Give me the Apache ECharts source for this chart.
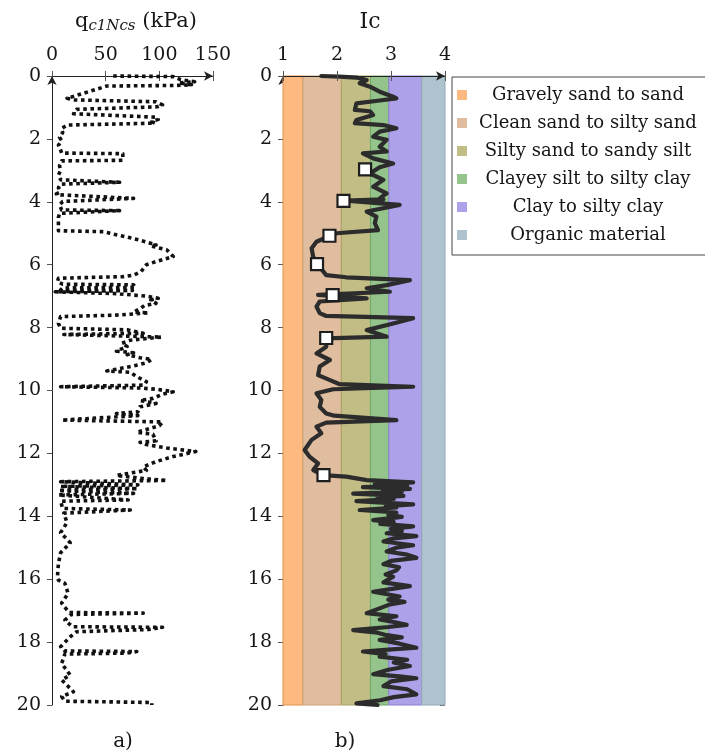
<!DOCTYPE html>
<html>
<head>
<meta charset="utf-8">
<style>
  html, body { margin: 0; padding: 0; background: #fff; }
  #chart { width: 705px; height: 754px; }
</style>
<script src="https://cdn.jsdelivr.net/npm/echarts@6/dist/echarts.min.js"></script>
</head>
<body>
<div id="chart"></div>
<script>
// Cone resistance profile: [q_c1Ncs (kPa), depth (m)]
const qc1ncsProfile = [
  [57,0],[113,0.02],[120,0.12],[133,0.18],[118,0.22],[130,0.28],[115,0.3],[51,0.32],[14,0.71],[20,0.76],
  [97,0.82],[103,0.92],[98,0.98],[23,1.06],[20,1.2],[97,1.31],[99,1.38],[93,1.45],[96,1.5],[14,1.56],
  [9,1.67],[10,1.8],[7,1.95],[9,2.05],[6,2.2],[8,2.35],[9,2.45],[66,2.47],[66,2.68],[9,2.70],
  [7,2.85],[8,3.0],[6,3.15],[8,3.3],[9,3.36],[63,3.38],[63,3.42],[8,3.44],[6,3.55],[7,3.7],
  [4,3.75],[8,3.78],[76,3.89],[10,3.99],[7,4.1],[9,4.26],[63,4.28],[63,4.34],[7,4.37],[6,4.5],
  [6,4.7],[6,4.92],[48,4.95],[60,5.05],[70,5.12],[82,5.22],[97,5.37],[92,5.4],[107,5.53],[113,5.74],
  [105,5.82],[97,5.90],[88,6.0],[83,6.22],[76,6.33],[66,6.38],[6,6.43],[5,6.54],[10,6.62],[76,6.64],
  [78,6.72],[10,6.74],[8,6.80],[75,6.82],[3,6.86],[60,6.92],[88,7.0],[99,7.07],[92,7.12],[97,7.23],
  [86,7.3],[82,7.4],[76,7.51],[90,7.53],[63,7.6],[8,7.65],[6,7.87],[8,8.02],[70,8.07],[85,8.18],
  [11,8.22],[102,8.3],[73,8.4],[65,8.5],[70,8.6],[60,8.75],[76,8.8],[70,8.86],[82,8.96],[93,9.01],
  [88,9.12],[76,9.22],[51,9.38],[73,9.42],[79,9.56],[88,9.72],[85,9.83],[8,9.88],[82,9.92],[97,9.96],
  [113,10.04],[103,10.12],[94,10.25],[82,10.32],[97,10.41],[82,10.52],[80,10.68],[60,10.73],[80,10.8],[9,10.94],
  [103,11.0],[100,11.12],[79,11.33],[94,11.39],[97,11.6],[82,11.65],[88,11.72],[107,11.83],[134,11.94],[113,12.1],
  [97,12.26],[85,12.43],[88,12.54],[60,12.7],[85,12.8],[107,12.86],[8,12.9],[80,13.0],[8,13.05],[80,13.12],
  [6,13.18],[76,13.27],[6,13.32],[71,13.48],[8,13.52],[10,13.75],[73,13.80],[11,13.9],[14,14.2],[8,14.52],
  [17,14.84],[8,15.16],[6,15.5],[5,15.96],[6,16.03],[12,16.13],[15,16.45],[9,16.76],[14,16.98],[16,17.06],
  [85,17.08],[18,17.12],[12,17.3],[19,17.51],[103,17.53],[90,17.6],[23,17.67],[17,17.83],[8,18.15],[12,18.28],
  [79,18.3],[70,18.35],[12,18.38],[9,18.68],[17,19.05],[9,19.2],[20,19.58],[9,19.73],[12,19.88],[93,19.92],
  [93,20]
];

// Soil behaviour type index profile: [Ic, depth (m)]
const icProfile = [
  [1.71,0],[2.05,0.02],[2.36,0.05],[2.55,0.13],[2.42,0.23],[2.61,0.34],[2.79,0.5],[3.04,0.66],[3.1,0.71],[2.79,0.78],
  [2.36,0.87],[2.33,1.08],[2.61,1.12],[2.67,1.24],[2.36,1.40],[2.33,1.5],[2.86,1.56],[3.1,1.66],[2.79,1.77],[2.67,1.93],
  [2.92,2.03],[2.79,2.25],[2.92,2.4],[2.48,2.46],[2.67,2.62],[3.04,2.78],[2.79,2.9],[2.61,3.1],[2.86,3.3],[2.67,3.52],
  [2.92,3.73],[2.79,3.89],[2.86,3.92],[2.17,3.96],[3.16,4.1],[2.55,4.31],[2.73,4.47],[2.70,4.68],[2.76,4.9],[1.99,5.0],
  [1.87,5.08],[1.62,5.27],[1.53,5.48],[1.56,5.75],[1.65,6.01],[1.80,6.33],[2.17,6.40],[3.35,6.49],[2.92,6.65],[2.55,6.75],
  [2.98,6.86],[1.65,6.96],[2.55,7.07],[1.68,7.17],[1.62,7.33],[1.68,7.54],[1.80,7.63],[3.41,7.70],[3.04,7.87],[2.55,8.08],
  [2.92,8.29],[1.80,8.34],[1.80,8.61],[1.62,8.82],[1.87,9.03],[1.68,9.24],[1.65,9.51],[1.87,9.67],[2.05,9.80],[3.41,9.88],
  [1.93,9.96],[1.62,10.09],[1.71,10.3],[1.68,10.52],[1.80,10.73],[1.95,10.80],[3.10,10.94],[1.80,11.02],[1.62,11.15],[1.71,11.36],
  [1.53,11.57],[1.40,11.89],[1.49,12.1],[1.65,12.32],[1.56,12.53],[1.74,12.69],[2.17,12.74],[2.55,12.85],[3.41,12.92],[2.70,12.98],
  [3.30,13.02],[2.48,13.07],[3.35,13.13],[2.85,13.18],[3.20,13.22],[2.30,13.28],[3.23,13.35],[2.75,13.40],[3.05,13.45],[2.36,13.52],
  [3.41,13.62],[2.90,13.68],[3.10,13.72],[2.42,13.80],[3.10,13.88],[2.95,13.95],[3.20,14.02],[2.67,14.12],[3.05,14.18],[2.80,14.24],
  [3.41,14.32],[3.00,14.40],[3.20,14.46],[2.92,14.54],[3.47,14.63],[3.05,14.70],[2.86,14.80],[3.41,14.92],[3.10,15.00],[2.92,15.12],
  [3.30,15.22],[3.47,15.32],[3.00,15.42],[2.86,15.52],[3.15,15.62],[3.10,15.72],[2.90,15.85],[3.04,15.92],[2.86,16.10],[3.35,16.22],
  [3.05,16.30],[2.67,16.40],[3.16,16.55],[2.95,16.65],[3.25,16.72],[2.98,16.80],[2.80,16.92],[2.55,17.08],[3.10,17.18],[2.79,17.28],
  [3.05,17.36],[3.29,17.45],[2.95,17.52],[2.30,17.62],[2.75,17.70],[2.92,17.78],[3.20,17.85],[2.79,17.93],[3.16,18.05],[3.47,18.18],
  [2.95,18.24],[2.48,18.30],[2.90,18.38],[2.79,18.46],[3.30,18.56],[3.05,18.65],[3.35,18.76],[2.95,18.88],[2.67,19.02],[3.20,19.10],
  [3.47,19.15],[3.00,19.25],[2.86,19.40],[3.30,19.50],[3.47,19.66],[3.05,19.75],[2.80,19.85],[2.36,19.95],[2.75,20.0]
];

// Sampled points along the Ic profile
const sampleIc    = [2.52, 2.12, 1.86, 1.63, 1.92, 1.80, 1.75];
const sampleDepth = [2.97, 3.97, 5.08, 5.98, 6.97, 8.33, 12.69];

// Soil behaviour type zones (Ic limits)
const zoneNames  = ['Gravely sand to sand', 'Clean sand to silty sand', 'Silty sand to sandy silt',
                    'Clayey silt to silty clay', 'Clay to silty clay', 'Organic material'];
const zoneLimits = [1, 1.37, 2.08, 2.62, 2.96, 3.57, 4];
const zoneFill   = ['#fdb97f', '#dfbd9e', '#c2bd85', '#94c48b', '#ada2e9', '#aec3ce'];
const zoneEdge   = ['#e0924f', '#cda27c', '#a8a262', '#6fa966', '#8c7fd4', '#93aab6'];

// Axis ticks
const depthTicks = [0, 2, 4, 6, 8, 10, 12, 14, 16, 18, 20];
const qTicks = [0, 50, 100, 150];
const icTicks = [1, 2, 3, 4];

const FONT = 'DejaVu Serif';
const INK = '#161616';

const chart = echarts.init(document.getElementById('chart'), null, { renderer: 'canvas' });

function valueAxis(opts) {
  return Object.assign({
    type: 'value',
    splitLine: { show: false },
    axisLabel: { fontFamily: FONT, fontSize: 19, color: INK, margin: 11 },
    axisLine: { show: true, lineStyle: { color: '#222', width: 1 } },
    axisTick: { show: true, length: 5, lineStyle: { color: '#555' } }
  }, opts);
}

// companion axis that only draws the inward half of crossing ticks
function innerTicks(opts) {
  return Object.assign({
    type: 'value',
    splitLine: { show: false },
    axisLabel: { show: false },
    axisLine: { show: false },
    axisTick: { show: true, inside: true, length: 5, lineStyle: { color: '#555' } }
  }, opts);
}

const depthCfg = { min: depthTicks[0], max: depthTicks[depthTicks.length - 1], interval: 2, inverse: true };
const qCfg = { min: qTicks[0], max: qTicks[qTicks.length - 1], interval: 50 };
const icCfg = { min: icTicks[0], max: icTicks[icTicks.length - 1], interval: 1 };
const arrow = { symbol: ['none', 'arrow'], symbolSize: [7, 9] };

const zoneSeries = zoneNames.map((name, i) => ({
  name: name,
  type: 'line',
  xAxisIndex: 2,
  yAxisIndex: 2,
  data: [],
  z: 1,
  itemStyle: { color: zoneFill[i] },
  lineStyle: { color: zoneFill[i] },
  markArea: {
    silent: true,
    itemStyle: { color: zoneFill[i], borderColor: zoneEdge[i], borderWidth: 1 },
    data: [[{ xAxis: zoneLimits[i] }, { xAxis: zoneLimits[i + 1] }]]
  }
}));

const titleStyle = { fontFamily: FONT, fontSize: 21, fontWeight: 'normal', color: INK };

const option = {
  animation: false,
  backgroundColor: '#fff',
  title: [
    {
      text: 'q{s|c1Ncs} (kPa)',
      left: 131, top: 5, textAlign: 'center',
      textStyle: Object.assign({}, titleStyle, {
        rich: { s: { fontFamily: FONT, fontSize: 15, fontStyle: 'italic', color: INK, padding: [9, 0, 0, 0] } }
      })
    },
    { text: 'Ic', left: 365, top: 6, textAlign: 'center', textStyle: Object.assign({}, titleStyle, { fontSize: 22 }) },
    { text: 'a)', left: 118, top: 727, textAlign: 'center', textStyle: Object.assign({}, titleStyle, { fontSize: 20 }) },
    { text: 'b)', left: 340, top: 727, textAlign: 'center', textStyle: Object.assign({}, titleStyle, { fontSize: 20 }) }
  ],
  legend: {
    data: zoneNames,
    orient: 'vertical',
    left: 452, top: 77,
    padding: [9, 5, 11, 5],
    itemGap: 10,
    itemWidth: 10, itemHeight: 10,
    icon: 'rect',
    selectedMode: false,
    backgroundColor: '#fff',
    borderColor: '#444', borderWidth: 1, borderRadius: 0,
    formatter: name => '{t|' + name + '}',
    textStyle: {
      fontFamily: FONT, fontSize: 18, color: INK,
      rich: { t: { width: 232, align: 'center', fontFamily: FONT, fontSize: 18, lineHeight: 20, color: INK } }
    }
  },
  grid: [
    { left: 52, top: 76, width: 161, height: 629 },
    { left: 283, top: 76, width: 162, height: 629 }
  ],
  xAxis: [
    valueAxis(Object.assign({ gridIndex: 0, position: 'top', axisLine: Object.assign({ show: true, lineStyle: { color: '#222' } }, arrow) }, qCfg)),
    innerTicks(Object.assign({ gridIndex: 0, position: 'top' }, qCfg)),
    valueAxis(Object.assign({ gridIndex: 1, position: 'top', z: 5, axisLine: Object.assign({ show: true, lineStyle: { color: '#222' } }, arrow) }, icCfg)),
    innerTicks(Object.assign({ gridIndex: 1, position: 'top', z: 5 }, icCfg))
  ],
  yAxis: [
    valueAxis(Object.assign({ gridIndex: 0, axisLine: Object.assign({ show: true, lineStyle: { color: '#222' } }, arrow) }, depthCfg)),
    innerTicks(Object.assign({ gridIndex: 0 }, depthCfg)),
    valueAxis(Object.assign({ gridIndex: 1, axisLine: Object.assign({ show: true, lineStyle: { color: '#222' } }, arrow) }, depthCfg)),
    innerTicks(Object.assign({ gridIndex: 1 }, depthCfg))
  ],
  series: [
    ...zoneSeries,
    {
      name: 'qc1Ncs',
      type: 'line',
      xAxisIndex: 0, yAxisIndex: 0,
      data: qc1ncsProfile,
      showSymbol: false,
      clip: false,
      z: 3,
      lineStyle: { color: '#111', width: 3.6, type: 'dotted', cap: 'butt', join: 'round' }
    },
    {
      name: 'Ic',
      type: 'line',
      xAxisIndex: 2, yAxisIndex: 2,
      data: icProfile,
      showSymbol: false,
      clip: false,
      z: 3,
      lineStyle: { color: '#2c2c2c', width: 4.2, cap: 'round', join: 'round' }
    },
    {
      name: 'samples',
      type: 'scatter',
      xAxisIndex: 2, yAxisIndex: 2,
      data: sampleIc.map((v, i) => [v, sampleDepth[i]]),
      symbol: 'rect',
      symbolSize: 12,
      z: 6,
      itemStyle: { color: '#fff', borderColor: '#1e1e1e', borderWidth: 2.2, opacity: 1 }
    }
  ]
};

chart.setOption(option);
</script>
</body>
</html>
